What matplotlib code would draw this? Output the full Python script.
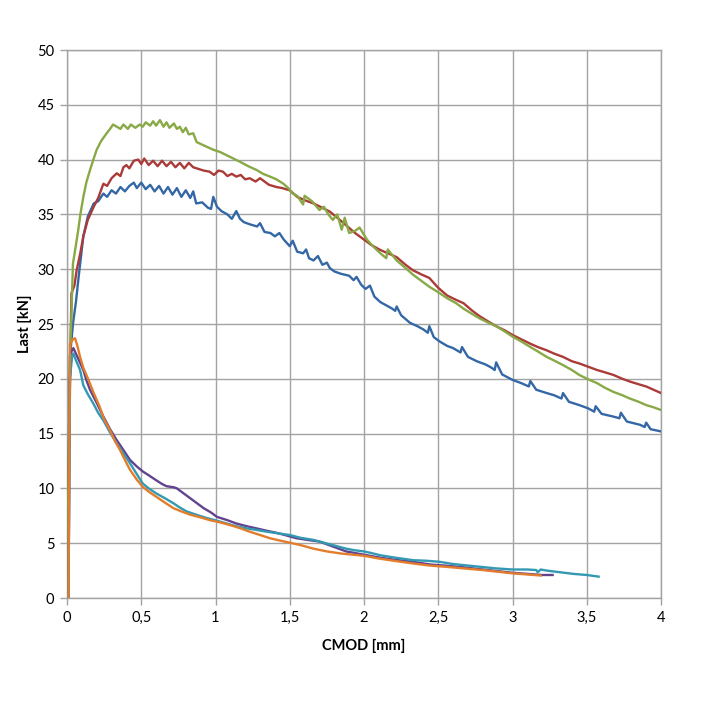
import matplotlib
matplotlib.use("Agg")
import matplotlib.pyplot as plt
import numpy as np

plt.rcParams['font.family'] = ['Lato', 'DejaVu Sans']

blue = [(0, 0), (0.02, 22), (0.04, 25), (0.06, 27), (0.08, 29.5), (0.11, 33.0), (0.14, 34.8), (0.18, 36.0),
        (0.21, 36.2), (0.245, 36.9), (0.27, 36.6), (0.30, 37.2), (0.33, 36.9), (0.36, 37.5), (0.39, 37.1),
        (0.42, 37.6), (0.45, 37.9), (0.47, 37.4), (0.50, 37.9), (0.53, 37.3), (0.56, 37.7), (0.59, 37.1),
        (0.62, 37.6), (0.65, 36.9), (0.68, 37.5), (0.71, 36.8), (0.74, 37.4), (0.77, 36.6), (0.80, 37.2),
        (0.83, 36.5), (0.85, 37.1), (0.87, 36.0), (0.91, 36.1), (0.95, 35.6), (0.97, 35.5), (0.985, 36.6),
        (1.01, 35.7), (1.04, 35.3), (1.08, 35.0), (1.11, 34.6), (1.14, 35.3), (1.165, 34.6), (1.19, 34.3),
        (1.23, 34.1), (1.28, 33.9), (1.30, 34.2), (1.33, 33.4), (1.37, 33.3), (1.40, 33.0), (1.43, 33.3),
        (1.46, 32.7), (1.50, 32.1), (1.52, 32.6), (1.55, 31.6), (1.59, 31.45), (1.61, 31.8), (1.63, 31.0),
        (1.66, 30.8), (1.69, 31.2), (1.72, 30.4), (1.75, 30.6), (1.77, 30.1), (1.80, 29.8), (1.84, 29.6),
        (1.87, 29.5), (1.90, 29.4), (1.93, 29.0), (1.95, 29.3), (1.98, 28.6), (2.01, 28.2), (2.04, 28.5),
        (2.07, 27.5), (2.11, 27.0), (2.15, 26.7), (2.19, 26.4), (2.21, 26.2), (2.22, 26.6), (2.25, 25.8),
        (2.31, 25.1), (2.36, 24.8), (2.40, 24.5), (2.43, 24.2), (2.44, 24.8), (2.47, 23.8), (2.51, 23.4),
        (2.56, 23.0), (2.60, 22.8), (2.65, 22.4), (2.66, 22.9), (2.70, 22.0), (2.76, 21.6), (2.82, 21.3),
        (2.86, 21.0), (2.88, 20.8), (2.89, 21.5), (2.93, 20.4), (3.0, 19.9), (3.06, 19.6), (3.11, 19.3),
        (3.12, 19.8), (3.16, 19.0), (3.23, 18.7), (3.28, 18.5), (3.33, 18.2), (3.34, 18.7), (3.38, 17.9),
        (3.45, 17.6), (3.51, 17.3), (3.55, 17.0), (3.56, 17.5), (3.60, 16.8), (3.68, 16.55), (3.72, 16.4),
        (3.73, 16.9), (3.77, 16.1), (3.86, 15.8), (3.89, 15.6), (3.90, 16.0), (3.93, 15.4), (4.0, 15.2)]

red = [(0, 0), (0.02, 20), (0.03, 27.8), (0.05, 28.5), (0.065, 29.9), (0.09, 31.5), (0.11, 33.0), (0.14, 34.5),
       (0.18, 35.7), (0.21, 36.5), (0.245, 37.8), (0.27, 37.6), (0.30, 38.3), (0.335, 38.75), (0.36, 38.5),
       (0.38, 39.3), (0.40, 39.5), (0.42, 39.2), (0.45, 39.9), (0.48, 40.0), (0.50, 39.6), (0.52, 40.1),
       (0.55, 39.5), (0.58, 39.9), (0.61, 39.4), (0.64, 39.9), (0.67, 39.4), (0.70, 39.8), (0.73, 39.3),
       (0.76, 39.7), (0.79, 39.2), (0.82, 39.7), (0.85, 39.3), (0.873, 39.2), (0.92, 39.0), (0.96, 38.9),
       (0.99, 38.6), (1.02, 39.0), (1.05, 38.9), (1.08, 38.5), (1.11, 38.7), (1.14, 38.45), (1.17, 38.6),
       (1.20, 38.2), (1.23, 38.3), (1.27, 38.0), (1.30, 38.3), (1.32, 38.1), (1.36, 37.7), (1.41, 37.5),
       (1.45, 37.4), (1.50, 37.2), (1.55, 36.6), (1.60, 36.3), (1.66, 36.0), (1.72, 35.6), (1.77, 35.25),
       (1.82, 34.7), (1.88, 34.0), (1.94, 33.3), (2.0, 32.7), (2.05, 32.2), (2.11, 31.75), (2.17, 31.4),
       (2.22, 31.1), (2.28, 30.4), (2.33, 29.9), (2.39, 29.5), (2.44, 29.2), (2.50, 28.3), (2.56, 27.6),
       (2.62, 27.2), (2.67, 26.9), (2.73, 26.2), (2.78, 25.7), (2.84, 25.2), (2.89, 24.8), (2.95, 24.4),
       (3.0, 24.0), (3.06, 23.6), (3.12, 23.2), (3.17, 22.9), (3.23, 22.6), (3.28, 22.3), (3.34, 22.0),
       (3.40, 21.6), (3.45, 21.4), (3.51, 21.1), (3.57, 20.8), (3.62, 20.6), (3.68, 20.35), (3.74, 20.0),
       (3.79, 19.75), (3.85, 19.5), (3.90, 19.3), (3.95, 19.0), (4.0, 18.7)]

green = [(0, 0), (0.02, 22), (0.03, 26), (0.04, 30.5), (0.06, 32.2), (0.076, 33.6), (0.09, 35.0), (0.11, 36.6),
         (0.13, 37.9), (0.155, 39.05), (0.18, 40.1), (0.20, 40.9), (0.23, 41.7), (0.267, 42.4), (0.29, 42.8),
         (0.31, 43.2), (0.335, 43.0), (0.36, 42.8), (0.38, 43.2), (0.41, 42.8), (0.43, 43.2), (0.46, 42.9),
         (0.49, 43.2), (0.51, 43.0), (0.53, 43.4), (0.56, 43.1), (0.58, 43.5), (0.60, 43.1), (0.626, 43.6),
         (0.65, 43.0), (0.67, 43.4), (0.69, 42.9), (0.72, 43.3), (0.74, 42.8), (0.76, 43.0), (0.78, 42.5),
         (0.80, 42.9), (0.82, 42.3), (0.85, 42.4), (0.873, 41.6), (0.92, 41.3), (0.985, 40.9), (1.03, 40.7),
         (1.075, 40.4), (1.12, 40.1), (1.165, 39.8), (1.22, 39.4), (1.277, 39.05), (1.32, 38.7),
         (1.367, 38.45), (1.41, 38.2), (1.457, 37.8), (1.49, 37.4), (1.52, 36.9), (1.55, 36.7), (1.59, 35.9),
         (1.60, 36.7), (1.65, 36.2), (1.70, 35.4), (1.73, 35.7), (1.76, 35.0), (1.79, 34.5), (1.82, 35.0),
         (1.85, 33.6), (1.87, 34.7), (1.90, 33.3), (1.94, 33.5), (1.97, 33.8), (2.02, 32.7), (2.06, 32.1),
         (2.11, 31.45), (2.15, 31.0), (2.16, 31.8), (2.22, 30.8), (2.28, 30.1), (2.33, 29.5), (2.39, 28.9),
         (2.44, 28.4), (2.50, 27.9), (2.56, 27.35), (2.62, 26.9), (2.67, 26.4), (2.73, 25.9), (2.78, 25.5),
         (2.84, 25.1), (2.89, 24.8), (2.95, 24.3), (3.0, 23.85), (3.06, 23.4), (3.12, 22.9), (3.17, 22.5),
         (3.23, 22.0), (3.29, 21.6), (3.34, 21.25), (3.40, 20.8), (3.45, 20.35), (3.51, 19.95), (3.57, 19.6),
         (3.62, 19.2), (3.68, 18.8), (3.74, 18.5), (3.79, 18.2), (3.85, 17.9), (3.90, 17.6), (3.95, 17.4),
         (4.0, 17.15)]

purple = [(0.01, 0), (0.02, 20), (0.03, 22.5), (0.043, 22.8), (0.07, 22.0), (0.09, 21.4), (0.11, 20.8),
          (0.13, 19.9), (0.155, 19.0), (0.20, 17.8), (0.245, 16.55), (0.29, 15.4), (0.335, 14.4), (0.38, 13.5),
          (0.424, 12.6), (0.47, 12.0), (0.51, 11.55), (0.55, 11.2), (0.60, 10.75), (0.64, 10.4), (0.67, 10.2),
          (0.72, 10.1), (0.74, 10.0), (0.78, 9.6), (0.83, 9.1), (0.88, 8.6), (0.92, 8.2), (0.97, 7.8),
          (1.01, 7.4), (1.08, 7.1), (1.14, 6.8), (1.21, 6.55), (1.277, 6.35), (1.34, 6.15), (1.41, 5.95),
          (1.48, 5.7), (1.546, 5.45), (1.62, 5.3), (1.70, 5.15), (1.78, 4.75), (1.88, 4.25), (2.0, 3.95),
          (2.1, 3.7), (2.2, 3.5), (2.33, 3.3), (2.45, 3.05), (2.55, 2.95), (2.67, 2.8), (2.8, 2.6),
          (2.9, 2.45), (3.0, 2.3), (3.1, 2.2), (3.2, 2.1), (3.27, 2.1)]

teal = [(0.01, 0), (0.02, 20), (0.035, 22.2), (0.043, 22.3), (0.06, 21.7), (0.088, 20.8), (0.11, 19.4),
        (0.14, 18.6), (0.177, 17.75), (0.21, 16.9), (0.245, 16.2), (0.29, 15.1), (0.335, 14.1), (0.38, 13.2),
        (0.424, 12.3), (0.47, 11.3), (0.51, 10.45), (0.55, 10.0), (0.60, 9.55), (0.66, 9.1), (0.716, 8.65),
        (0.76, 8.25), (0.806, 7.9), (0.87, 7.6), (0.94, 7.3), (1.01, 7.05), (1.075, 6.8), (1.14, 6.55),
        (1.21, 6.35), (1.28, 6.2), (1.345, 6.05), (1.42, 5.9), (1.50, 5.75), (1.57, 5.5), (1.66, 5.3),
        (1.77, 4.9), (1.88, 4.5), (1.94, 4.35), (2.0, 4.25), (2.05, 4.1), (2.11, 3.9), (2.2, 3.7),
        (2.33, 3.45), (2.42, 3.4), (2.51, 3.3), (2.6, 3.1), (2.67, 3.0), (2.78, 2.85), (2.89, 2.7),
        (3.0, 2.6), (3.1, 2.6), (3.16, 2.55), (3.17, 2.35), (3.19, 2.6), (3.23, 2.5), (3.32, 2.35),
        (3.41, 2.2), (3.5, 2.1), (3.58, 1.95)]

orange = [(0.01, 0), (0.02, 23.2), (0.04, 23.6), (0.054, 23.7), (0.07, 23.0), (0.088, 22.0), (0.11, 21.0),
          (0.14, 20.05), (0.18, 18.7), (0.22, 17.45), (0.25, 16.3), (0.29, 15.3), (0.32, 14.4), (0.357, 13.5),
          (0.39, 12.6), (0.424, 11.7), (0.47, 10.8), (0.51, 10.15), (0.55, 9.7), (0.60, 9.25), (0.66, 8.7),
          (0.716, 8.2), (0.77, 7.9), (0.83, 7.6), (0.90, 7.35), (0.963, 7.1), (1.03, 6.9), (1.10, 6.65),
          (1.17, 6.35), (1.23, 6.05), (1.30, 5.75), (1.367, 5.45), (1.43, 5.25), (1.50, 5.05), (1.58, 4.8),
          (1.66, 4.5), (1.75, 4.25), (1.85, 4.05), (2.0, 3.85), (2.10, 3.6), (2.2, 3.4), (2.33, 3.15),
          (2.45, 2.95), (2.55, 2.85), (2.67, 2.7), (2.8, 2.55), (2.9, 2.4), (3.0, 2.25), (3.1, 2.15),
          (3.19, 2.05)]

x_ticks = [0, 0.5, 1, 1.5, 2, 2.5, 3, 3.5, 4]
x_tick_labels = ['0', '0,5', '1', '1,5', '2', '2,5', '3', '3,5', '4']
y_ticks = [0, 5, 10, 15, 20, 25, 30, 35, 40, 45, 50]

series = [(blue, '#3467a6'), (red, '#aa3b38'), (green, '#88a945'),
          (purple, '#62438f'), (teal, '#3399b3'), (orange, '#e37d2c')]

fig = plt.figure(figsize=(7.03, 7.03), dpi=100)
ax = fig.add_axes([67 / 703, 1 - 598 / 703, (661 - 67) / 703, (598 - 50) / 703])

for data, col in series:
    arr = np.array(data)
    ax.plot(arr[:, 0], arr[:, 1], color=col, lw=1.7, solid_joinstyle='round', zorder=3)

ax.set_xlim(0, 4)
ax.set_ylim(0, 50)
ax.set_xticks(x_ticks)
ax.set_xticklabels(x_tick_labels)
ax.set_yticks(y_ticks)
ax.grid(True, color='#a3a3a3', lw=1.0, zorder=0)
ax.set_axisbelow(True)
for s in ax.spines.values():
    s.set_color('#a3a3a3')
    s.set_linewidth(1.0)
ax.tick_params(axis='both', direction='out', length=5, width=1, color='#a3a3a3',
               labelsize=10.5, labelcolor='#000000', pad=4)
ax.set_xlabel('CMOD [mm]', fontsize=10.5, fontweight='bold', labelpad=10.5)
ax.set_ylabel('Last [kN]', fontsize=10.5, fontweight='bold', labelpad=4)

fig.savefig('out.png', dpi=100, facecolor='white')
